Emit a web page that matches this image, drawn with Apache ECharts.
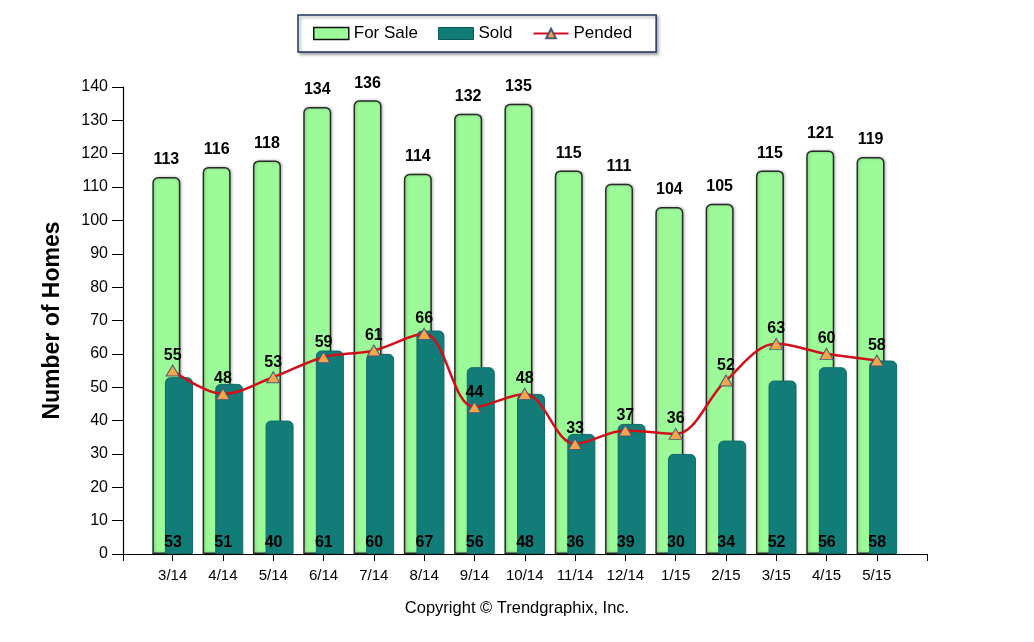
<!DOCTYPE html>
<html>
<head>
<meta charset="utf-8">
<script src="https://cdn.jsdelivr.net/npm/echarts@6/dist/echarts.min.js"></script>
<style>html,body{margin:0;padding:0;background:#fff;}#c{width:1034px;height:642px;}</style>
</head>
<body>
<div id="c"></div>
<script>
var categories = ['3/14','4/14','5/14','6/14','7/14','8/14','9/14','10/14','11/14','12/14','1/15','2/15','3/15','4/15','5/15'];
var forSale = [113,116,118,134,136,114,132,135,115,111,104,105,115,121,119];
var sold = [53,51,40,61,60,67,56,48,36,39,30,34,52,56,58];
var pended = [55,48,53,59,61,66,44,48,33,37,36,52,63,60,58];
var yTicks = {min: 0, max: 140, interval: 10};

var FONT = 'Liberation Sans, Arial, sans-serif';
var chart = echarts.init(document.getElementById('c'));
chart.setOption({
  animation: false,
  backgroundColor: '#ffffff',
  textStyle: {fontFamily: FONT},
  legend: {
    left: 298, top: 15,
    padding: [10, 24, 10, 15],
    itemGap: 20,
    itemWidth: 35, itemHeight: 12,
    borderColor: '#1f3560', borderWidth: 1.5,
    backgroundColor: '#fff',
    shadowColor: 'rgba(0,0,0,0.35)', shadowBlur: 3, shadowOffsetX: 2, shadowOffsetY: 2,
    textStyle: {fontSize: 17, color: '#000', fontFamily: FONT},
    data: [
      {name: 'For Sale', icon: 'rect', itemStyle: {color: '#9cfb98', borderColor: '#111', borderWidth: 1.5}},
      {name: 'Sold', icon: 'rect', itemStyle: {color: '#127d78', borderColor: '#0b5955', borderWidth: 1}},
      {name: 'Pended'}
    ]
  },
  grid: [
    {left: 123, right: 107, top: 87, bottom: 88, containLabel: false},
    {left: 147.5, right: 132, top: 87, bottom: 88, containLabel: false}
  ],
  xAxis: [
    {
      gridIndex: 0, type: 'value', min: 0, max: 1, interval: 1,
      axisLine: {show: true, lineStyle: {color: '#000', width: 1.2}},
      axisTick: {show: true, length: 7, lineStyle: {color: '#000'}},
      axisLabel: {show: false},
      splitLine: {show: false}
    },
    {
      gridIndex: 1, type: 'category', data: categories,
      axisLine: {show: false},
      axisTick: {show: true, alignWithLabel: true, length: 7, lineStyle: {color: '#000'}},
      axisLabel: {color: '#000', fontSize: 15, margin: 14, fontFamily: FONT}
    }
  ],
  yAxis: [
    {
      gridIndex: 0, type: 'value',
      min: yTicks.min, max: yTicks.max, interval: yTicks.interval,
      name: 'Number of Homes',
      nameLocation: 'middle',
      nameGap: 59,
      nameTextStyle: {fontSize: 23, fontWeight: 'bold', color: '#000', fontFamily: FONT},
      axisLine: {show: true, lineStyle: {color: '#000', width: 1.2}},
      axisTick: {show: true, length: 11, lineStyle: {color: '#000'}},
      axisLabel: {color: '#000', fontSize: 16, margin: 15, fontFamily: FONT},
      splitLine: {show: false}
    },
    {
      gridIndex: 1, type: 'value',
      min: yTicks.min, max: yTicks.max, interval: yTicks.interval,
      show: false, splitLine: {show: false}
    }
  ],
  series: [
    {
      name: 'For Sale', type: 'bar', data: forSale, xAxisIndex: 1, yAxisIndex: 1,
      barWidth: 28, barGap: '-55%',
      itemStyle: {color: '#9cfb98', borderColor: '#2a2a2a', borderWidth: 1.5, borderRadius: [5,5,0,0],
        shadowColor: 'rgba(0,0,0,0.25)', shadowBlur: 3, shadowOffsetX: 1},
      label: {show: true, position: 'top', distance: 9, fontSize: 16, fontWeight: 'bold', color: '#000', fontFamily: FONT},
      z: 2
    },
    {
      name: 'Sold', type: 'bar', data: sold, xAxisIndex: 1, yAxisIndex: 1,
      barWidth: 28,
      itemStyle: {color: '#127d78', borderColor: '#0d6a66', borderWidth: 1, borderRadius: [5,5,0,0]},
      label: {show: true, position: 'insideBottom', distance: 3, offset: [-6, 0], fontSize: 16, fontWeight: 'bold', color: '#000', fontFamily: FONT},
      z: 3
    },
    {
      name: 'Pended', type: 'line', data: pended, xAxisIndex: 1, yAxisIndex: 1,
      smooth: 0.35,
      symbol: 'triangle', symbolSize: [13, 11],
      lineStyle: {color: '#d0101a', width: 2.5},
      itemStyle: {color: '#f5a54a', borderColor: '#4a5878', borderWidth: 1},
      label: {show: true, position: 'top', distance: 1, fontSize: 16, fontWeight: 'bold', color: '#000', fontFamily: FONT},
      z: 5
    }
  ],
  graphic: [
    {type: 'text', left: 'center', top: 600, style: {text: 'Copyright \u00A9 Trendgraphix, Inc.', fontSize: 16.5, fill: '#000', fontFamily: FONT}}
  ]
});
</script>
</body>
</html>
